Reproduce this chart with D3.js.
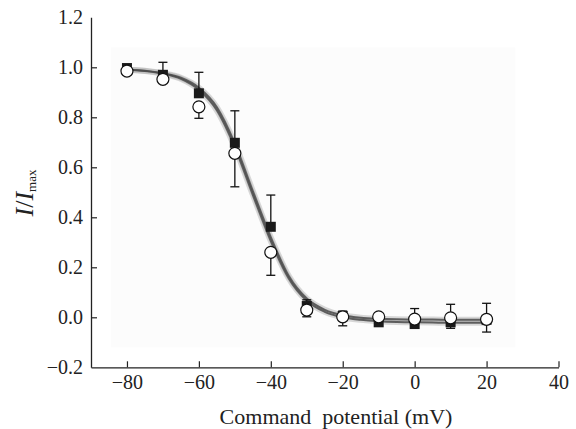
<!DOCTYPE html>
<html>
<head>
<meta charset="utf-8">
<script src="https://cdn.jsdelivr.net/npm/d3@7"></script>
<style>
body { margin: 0; background: #fff; }
svg { display: block; }
text { font-family: "Liberation Serif", "DejaVu Serif", serif; fill: #222; }
</style>
</head>
<body>
<svg></svg>
<script>
var svgWidth = 576;
var svgHeight = 429;

// command potential (mV)
var voltages = [-80, -70, -60, -50, -40, -30, -20, -10, 0, 10, 20];

// filled squares, error bars drawn upward
var squareValues = [0.997, 0.97, 0.896, 0.698, 0.362, 0.045, 0.005, -0.02, -0.027, -0.02, -0.01];
var squareErrors = [0.005, 0.05, 0.084, 0.128, 0.127, 0.025, 0.02, 0.005, 0.062, 0.072, 0.066];

// open circles, error bars drawn downward
var circleValues = [0.985, 0.952, 0.842, 0.656, 0.26, 0.029, 0.002, 0.002, -0.007, -0.002, -0.008];
var circleErrors = [0.005, 0.01, 0.046, 0.134, 0.092, 0.027, 0.036, 0.005, 0.01, 0.042, 0.051];

// fitted curves
var fitVoltages = [-80, -75, -70, -65, -60, -55, -50, -45, -40, -35, -30, -25, -20, -15, -10, -5, 0, 5, 10, 15, 20];
var fitSquares = [0.99, 0.986, 0.976, 0.958, 0.918, 0.84, 0.695, 0.505, 0.32, 0.165, 0.075, 0.03, 0.008, -0.002, -0.006, -0.008, -0.009, -0.009, -0.01, -0.01, -0.01];
var fitCircles = [0.99, 0.985, 0.974, 0.954, 0.91, 0.828, 0.68, 0.49, 0.305, 0.155, 0.066, 0.022, 0.0, -0.01, -0.016, -0.019, -0.02, -0.021, -0.022, -0.022, -0.022];

var xTicks = [-80, -60, -40, -20, 0, 20, 40];
var yTicks = [-0.2, 0.0, 0.2, 0.4, 0.6, 0.8, 1.0, 1.2];

var x = d3.scaleLinear().domain([-90, 40]).range([91, 558.5]);
var y = d3.scaleLinear().domain([-0.2, 1.2]).range([367.3, 17.3]);

var svg = d3.select("svg")
    .attr("width", svgWidth)
    .attr("height", svgHeight);

// faint scan background
svg.append("rect")
    .attr("x", x(-84.5))
    .attr("y", y(1.08))
    .attr("width", x(28) - x(-84.5))
    .attr("height", y(-0.12) - y(1.08))
    .attr("fill", "#fcfcfc");

function minusFmt(v, digits) {
    var s = d3.format("." + digits + "f")(Math.abs(v));
    return (v < 0 ? "\u2212" : "") + s;
}

var xAxis = d3.axisBottom(x)
    .tickValues(xTicks)
    .tickSize(-6)
    .tickSizeOuter(0)
    .tickPadding(8)
    .tickFormat(function (d) { return minusFmt(d, 0); });

var yAxis = d3.axisLeft(y)
    .tickValues(yTicks)
    .tickSize(-6)
    .tickSizeOuter(0)
    .tickPadding(8)
    .tickFormat(function (d) { return minusFmt(d, 1); });

var gx = svg.append("g")
    .attr("transform", "translate(0," + y(-0.2) + ")")
    .call(xAxis);

var gy = svg.append("g")
    .attr("transform", "translate(" + x(-90) + ",0)")
    .call(yAxis);

[gx, gy].forEach(function (g) {
    g.attr("font-family", null);
    g.select(".domain").attr("stroke", "#222").attr("stroke-width", 1.3);
    g.selectAll(".tick line").attr("stroke", "#222").attr("stroke-width", 1.2);
    g.selectAll(".tick text")
        .attr("font-family", "Liberation Serif")
        .attr("font-size", 20)
        .attr("fill", "#222");
});
gy.selectAll(".tick").filter(function (d) { return d === -0.2 || d === 1.2; })
    .select("line").remove();

// axis titles
svg.append("text")
    .attr("x", 336)
    .attr("y", 424)
    .attr("text-anchor", "middle")
    .attr("font-size", 22)
    .attr("xml:space", "preserve")
    .text("Command  potential (mV)");

var yTitle = svg.append("text")
    .attr("transform", "translate(33,193) rotate(-90)")
    .attr("text-anchor", "middle")
    .attr("font-size", 26);
yTitle.append("tspan").attr("font-style", "italic").text("I");
yTitle.append("tspan").text("/");
yTitle.append("tspan").attr("font-style", "italic").text("I");
yTitle.append("tspan").attr("font-size", 13).attr("dy", 3).text("max");

// fitted curves
var fitLine = d3.line()
    .x(function (d) { return x(d[0]); })
    .y(function (d) { return y(d[1]); })
    .curve(d3.curveMonotoneX);

[fitSquares, fitCircles].forEach(function (fit) {
    var pts = fitVoltages.map(function (v, i) { return [v, fit[i]]; });
    svg.append("path")
        .attr("d", fitLine(pts))
        .attr("fill", "none")
        .attr("stroke", "#aaa")
        .attr("stroke-opacity", 0.45)
        .attr("stroke-width", 6);
});
[fitSquares, fitCircles].forEach(function (fit) {
    var pts = fitVoltages.map(function (v, i) { return [v, fit[i]]; });
    svg.append("path")
        .attr("d", fitLine(pts))
        .attr("fill", "none")
        .attr("stroke", "#4a4a4a")
        .attr("stroke-opacity", 0.85)
        .attr("stroke-width", 2);
});

// error bars: dir +1 draws upward, -1 downward
function drawErrors(vals, errs, dir) {
    var g = svg.append("g").attr("stroke", "#111").attr("stroke-width", 1.3);
    voltages.forEach(function (v, i) {
        var from = y(vals[i]);
        var to = y(vals[i] + dir * errs[i]);
        g.append("line").attr("x1", x(v)).attr("x2", x(v)).attr("y1", from).attr("y2", to);
        g.append("line").attr("x1", x(v) - 4.5).attr("x2", x(v) + 4.5).attr("y1", to).attr("y2", to);
    });
}
drawErrors(squareValues, squareErrors, 1);
drawErrors(circleValues, circleErrors, -1);

// markers
var sq = 10;
svg.append("g").selectAll("rect")
    .data(voltages)
    .join("rect")
    .attr("x", function (d) { return x(d) - sq / 2; })
    .attr("y", function (d, i) { return y(squareValues[i]) - sq / 2; })
    .attr("width", sq)
    .attr("height", sq)
    .attr("fill", "#1a1a1a");

svg.append("g").selectAll("circle")
    .data(voltages)
    .join("circle")
    .attr("cx", function (d) { return x(d); })
    .attr("cy", function (d, i) { return y(circleValues[i]); })
    .attr("r", 6)
    .attr("fill", "#fff")
    .attr("stroke", "#111")
    .attr("stroke-width", 1.2);
</script>
</body>
</html>
